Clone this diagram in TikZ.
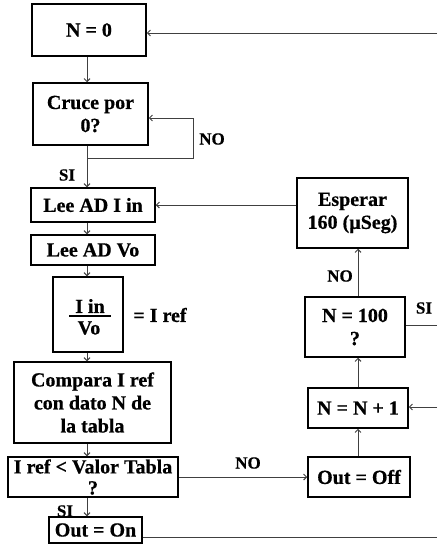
\documentclass[tikz,border=0pt]{standalone}
\usepackage{fontspec}
\setmainfont{Liberation Serif}[BoldFeatures={FakeBold=0.6}]
\usetikzlibrary{arrows.meta}
\begin{document}
\begin{tikzpicture}[x=1pt,y=-1pt,
  box/.style={draw=black,line width=1.5pt,rectangle,inner sep=0pt,align=center,font=\bfseries\fontsize{20}{23}\selectfont},
  txt/.style={inner sep=0pt,align=center,font=\bfseries\fontsize{20}{23}\selectfont},
  lbl/.style={inner sep=0pt,font=\bfseries\fontsize{17}{19}\selectfont},
  conn/.style={draw=black!75,line width=1pt},
  arr/.style={conn,-{Straight Barb[length=3pt,width=6pt]}}]
\useasboundingbox[fill=white] (0,0) rectangle (437,554);
% left column
\node[box,minimum width=114pt,minimum height=52pt] (n0) at (89,30) {N = 0};
\node[box,minimum width=115pt,minimum height=62pt] (cruce) at (90.5,114) {Cruce por\\0?};
\node[box,minimum width=124pt,minimum height=34pt] (leei) at (93,205) {Lee AD I in};
\node[box,minimum width=124pt,minimum height=30pt] (leev) at (93,250) {Lee AD Vo};
\node[box,minimum width=70pt,minimum height=75pt] (frac) at (88,314.5) {};
\node[txt] (fnum) at (90,306) {I in};
\node[txt] (fden) at (89,328) {Vo};
\coordinate (fb1) at (69,316);
\coordinate (fb2) at (111,316);
\draw[line width=1.5pt] (fb1) -- (fb2);
\node[txt] (eq) at (160,315) {= I ref};
\node[box,minimum width=157pt,minimum height=81pt] (comp) at (92.5,402.5) {Compara I ref\\con dato N de\\la tabla};
\node[box,minimum width=170pt,minimum height=40pt] (dec) at (93,477) {I ref < Valor Tabla\\[-2pt]?};
\node[box,minimum width=93pt,minimum height=26pt] (on) at (95.5,530) {Out = On};
% right column
\node[box,minimum width=102pt,minimum height=40pt] (off) at (359,477) {Out = Off};
\node[box,minimum width=100pt,minimum height=40pt] (inc) at (358,408) {N = N + 1};
\node[box,minimum width=100pt,minimum height=60pt] (n100) at (355,327) {N = 100\\?};
\node[box,minimum width=111pt,minimum height=70pt] (esp) at (352.5,213) {Esperar\\160 (µSeg)};
% spines and edge points
\coordinate (sp) at (87,0);
\coordinate (rsp) at (358,0);
\coordinate (j1) at (87,158);
\coordinate (lp) at (193,118);
\coordinate (e0) at (437,33);
\coordinate (e1) at (437,325);
\coordinate (e2) at (437,407);
\coordinate (e3) at (437,537);
% connectors
\draw[arr] (e0) -- (e0 -| n0.east);
\draw[arr] (n0.south -| sp) -- (cruce.north -| sp);
\draw[arr] (cruce.south -| sp) -- (leei.north -| sp);
\draw[arr] (j1) -| (lp) -- (lp -| cruce.east);
\draw[arr] (leei.south -| sp) -- (leev.north -| sp);
\draw[arr] (leev.south -| sp) -- (frac.north -| sp);
\draw[arr] (frac.south -| sp) -- (comp.north -| sp);
\draw[arr] (comp.south -| sp) -- (dec.north -| sp);
\draw[arr] (dec.south -| sp) -- (on.north -| sp);
\draw[arr] (dec.east) -- (off.west);
\draw[arr] (off.north -| rsp) -- (inc.south -| rsp);
\draw[arr] (inc.north -| rsp) -- (n100.south -| rsp);
\draw[arr] (n100.north -| rsp) -- (esp.south -| rsp);
\draw[arr] (esp.west |- leei) -- (leei.east);
\draw[conn] (n100.east |- e1) -- (e1);
\draw[arr] (e2) -- (e2 -| inc.east);
\draw[conn] (on.east |- e3) -- (e3);
% labels
\node[lbl] (lno1) at (212,139) {NO};
\node[lbl] (lsi1) at (67,175) {SI};
\node[lbl] (lno2) at (248,463) {NO};
\node[lbl] (lsi2) at (65,511) {SI};
\node[lbl] (lno3) at (340,276) {NO};
\node[lbl] (lsi3) at (424,308) {SI};
\end{tikzpicture}
\end{document}
